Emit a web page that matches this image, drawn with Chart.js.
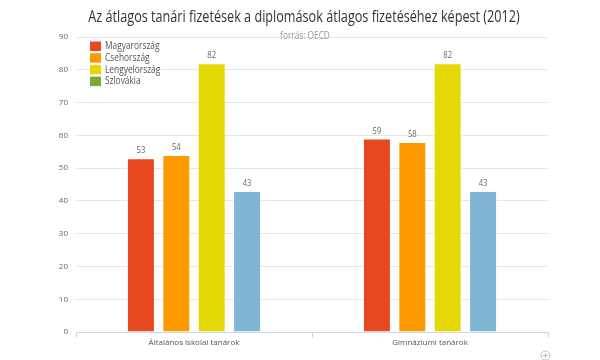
<!DOCTYPE html>
<html>
<head>
<meta charset="utf-8">
<script src="https://cdn.jsdelivr.net/npm/chart.js@4"></script>
<style>
  html, body { margin: 0; padding: 0; background: #fff; }
  #wrap { width: 600px; height: 360px; position: relative; }
</style>
</head>
<body>
<div id="wrap"><canvas id="barChart"></canvas></div>
<script>
var categories = ['Általános iskolai tanárok', 'Gimnáziumi tanárok'];
var seriesNames = ['Magyarország', 'Csehország', 'Lengyelország', 'Szlovákia'];
var magyarorszag = [53, 59];
var csehorszag = [54, 58];
var lengyelorszag = [82, 82];
var szlovakia = [43, 43];
var yTicks = [0, 10, 20, 30, 40, 50, 60, 70, 80, 90];

var barColors = ['#e6481f', '#fd9a00', '#e5d807', '#7fb5d5'];
var legendColors = ['#e6481f', '#fd9a00', '#e5d807', '#7ba73b'];
var font = '"Open Sans", "Noto Sans", sans-serif';

// text squeezed horizontally, the source image looks condensed
function narrowText(c, text, x, y, sx) {
  c.save();
  c.translate(x, y);
  c.scale(sx, 1);
  c.fillText(text, 0, 0);
  c.restore();
}

var headerPlugin = {
  id: 'header',
  afterDraw: function (chart) {
    var c = chart.ctx;
    c.save();
    c.textAlign = 'center';
    c.textBaseline = 'middle';
    c.fillStyle = '#333';
    c.font = '16px ' + font;
    narrowText(c, 'Az átlagos tanári fizetések a diplomások átlagos fizetéséhez képest (2012)', 304, 17, 0.79);
    c.fillStyle = '#999';
    c.font = '10px ' + font;
    narrowText(c, 'forrás: OECD', 305, 36, 0.83);
    // circled plus
    c.strokeStyle = '#bbb';
    c.lineWidth = 1;
    c.beginPath();
    c.arc(545.5, 355.5, 4.5, 0, Math.PI * 2);
    c.stroke();
    c.beginPath();
    c.moveTo(543, 355.5); c.lineTo(548, 355.5);
    c.moveTo(545.5, 353); c.lineTo(545.5, 358);
    c.stroke();
    c.restore();
  }
};

// legend inside the plot area
var legendPlugin = {
  id: 'insideLegend',
  afterDraw: function (chart) {
    var c = chart.ctx;
    c.save();
    c.font = '11px ' + font;
    c.textBaseline = 'middle';
    chart.data.datasets.forEach(function (ds, i) {
      var y = 46 + i * 11.7;
      c.fillStyle = legendColors[i];
      c.fillRect(90, y - 4.5, 11, 9.5);
      c.fillStyle = '#555';
      narrowText(c, ds.label, 105, y, 0.76);
    });
    c.restore();
  }
};

// value labels above bars
var valuePlugin = {
  id: 'values',
  afterDatasetsDraw: function (chart) {
    var c = chart.ctx;
    c.save();
    c.font = '9px ' + font;
    c.fillStyle = '#666';
    c.textAlign = 'center';
    c.textBaseline = 'bottom';
    chart.data.datasets.forEach(function (ds, i) {
      chart.getDatasetMeta(i).data.forEach(function (bar, j) {
        narrowText(c, ds.data[j], bar.x, bar.y - 3, 0.85);
      });
    });
    c.restore();
  }
};

var seriesData = [magyarorszag, csehorszag, lengyelorszag, szlovakia];

new Chart(document.getElementById('barChart').getContext('2d'), {
  type: 'bar',
  data: {
    labels: categories,
    datasets: seriesNames.map(function (name, i) {
      return {
        label: name,
        data: seriesData[i],
        backgroundColor: barColors[i],
        borderColor: 'rgba(255,255,255,0.6)',
        borderWidth: 1,
        categoryPercentage: 0.6,
        barPercentage: 0.79
      };
    })
  },
  options: {
    responsive: true,
    maintainAspectRatio: false,
    animation: false,
    layout: { padding: { top: 37, right: 52, bottom: 8, left: 0 } },
    plugins: {
      legend: { display: false },
      title: { display: false },
      tooltip: { enabled: false }
    },
    scales: {
      y: {
        min: 0,
        max: 90,
        afterFit: function (scale) { scale.width = 76; },
        afterBuildTicks: function (scale) {
          scale.ticks = yTicks.map(function (v) { return { value: v }; });
        },
        ticks: { color: '#666', font: { size: 8, family: font }, padding: 8 },
        grid: { color: '#e6e6e6', drawTicks: false },
        border: { display: false }
      },
      x: {
        afterFit: function (scale) { scale.height = 20; },
        ticks: { color: '#555', font: { size: 8, family: font }, padding: 0 },
        grid: { drawOnChartArea: false, drawTicks: true, tickLength: 6, color: '#ccd6eb' },
        border: { color: '#ccd6eb' }
      }
    }
  },
  plugins: [headerPlugin, legendPlugin, valuePlugin]
});
</script>
</body>
</html>
